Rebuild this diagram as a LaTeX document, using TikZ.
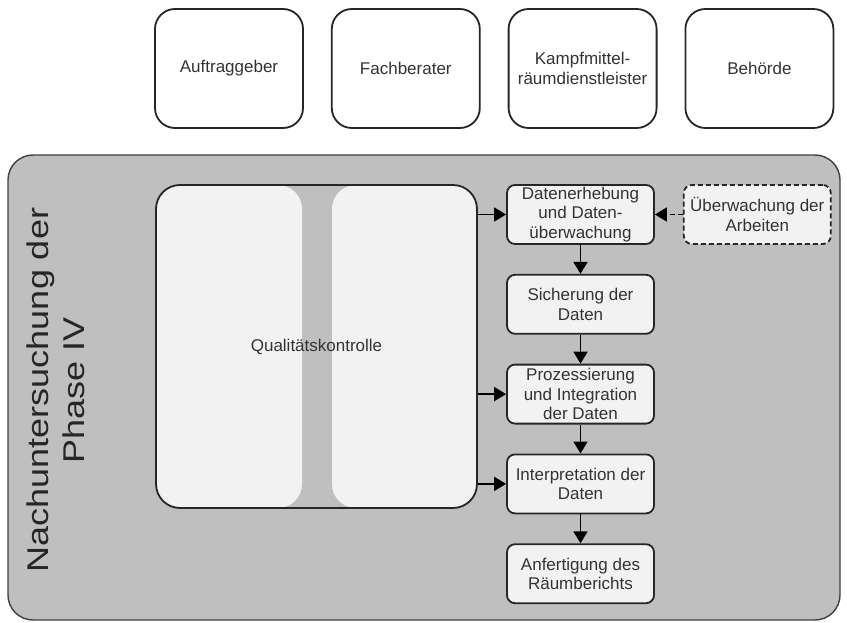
\documentclass[tikz,border=0pt]{standalone}
\usepackage{fontspec}
\setmainfont{Liberation Sans}
\newfontfamily\phasefont[FakeStretch=1.2]{Liberation Sans}
\usetikzlibrary{positioning,arrows.meta}

\definecolor{phasegray}{HTML}{BFBFBF}
\definecolor{boxlight}{HTML}{F2F2F2}
\definecolor{inktext}{HTML}{333333}

\tikzset{
	actor/.style={draw=black!85, line width=1.8pt, rounded corners=20pt, fill=white,
		minimum width=148pt, minimum height=119pt, inner sep=1pt, align=center, text=inktext,
		font=\fontsize{17}{20}\selectfont},
	stepbox/.style={draw=black!85, line width=1.8pt, rounded corners=8pt, fill=boxlight,
		minimum width=147pt, minimum height=59pt, inner sep=1pt, align=center, text=inktext,
		font=\fontsize{17}{19.5}\selectfont},
	watchbox/.style={stepbox, dash pattern=on 5pt off 3pt},
	qkbox/.style={draw=black!85, line width=1.8pt, rounded corners=24pt,
		minimum width=321pt, minimum height=323pt, text=inktext,
		font=\fontsize{17}{20}\selectfont},
	arr/.style={line width=1.8pt, -{Triangle[length=12pt,width=14pt]}},
}

\begin{document}
\begin{tikzpicture}[x=1pt,y=-1pt]
	\useasboundingbox (0,0) rectangle (847,623);

	\node [actor] (auftrag) at (229,68.5) {Auftraggeber};
	\node [actor, right=27pt of auftrag] (fachb) {Fachberater};
	\node [actor, right=27pt of fachb] (kmrd) {Kampfmittel-\\räumdienstleister};
	\node [actor, right=27pt of kmrd] (behoerde) {Behörde};

	\draw [draw=black!75, line width=1.4pt, fill=phasegray, rounded corners=25pt] (8,155) rectangle (840,620);
	\node [rotate=90, align=center, text=black!85, font=\phasefont\fontsize{30}{36}\selectfont] (phase) at (56,390) {Nachuntersuchung der\\Phase IV};

	\fill [boxlight, rounded corners=24pt] (156,185) rectangle (302,508);
	\fill [boxlight, rounded corners=24pt] (332,185) rectangle (477,508);
	\node [qkbox] (qk) at (316.5,346.5) {Qualitätskontrolle};

	\node [stepbox] (erheb) at (580.5,214.5) {Datenerhebung\\und Daten-\\überwachung};
	\node [stepbox, below=29pt of erheb] (sicher) {Sicherung der\\Daten};
	\node [stepbox, below=29pt of sicher] (prozess) {Prozessierung\\und Integration\\der Daten};
	\node [stepbox, below=29pt of prozess] (interp) {Interpretation der\\Daten};
	\node [stepbox, below=29pt of interp] (bericht) {Anfertigung des\\Räumberichts};
	\node [watchbox, right=28pt of erheb] (ueberw) {Überwachung der\\Arbeiten};

	\draw [arr] (qk.east |- erheb.west) -- (erheb.west);
	\draw [arr] (qk.east |- prozess.west) -- (prozess.west);
	\draw [arr] (qk.east |- interp.west) -- (interp.west);
	\draw [arr, dash pattern=on 5pt off 3pt] (ueberw) -- (erheb);
	\draw [arr] (erheb) -- (sicher);
	\draw [arr] (sicher) -- (prozess);
	\draw [arr] (prozess) -- (interp);
	\draw [arr] (interp) -- (bericht);
\end{tikzpicture}
\end{document}
